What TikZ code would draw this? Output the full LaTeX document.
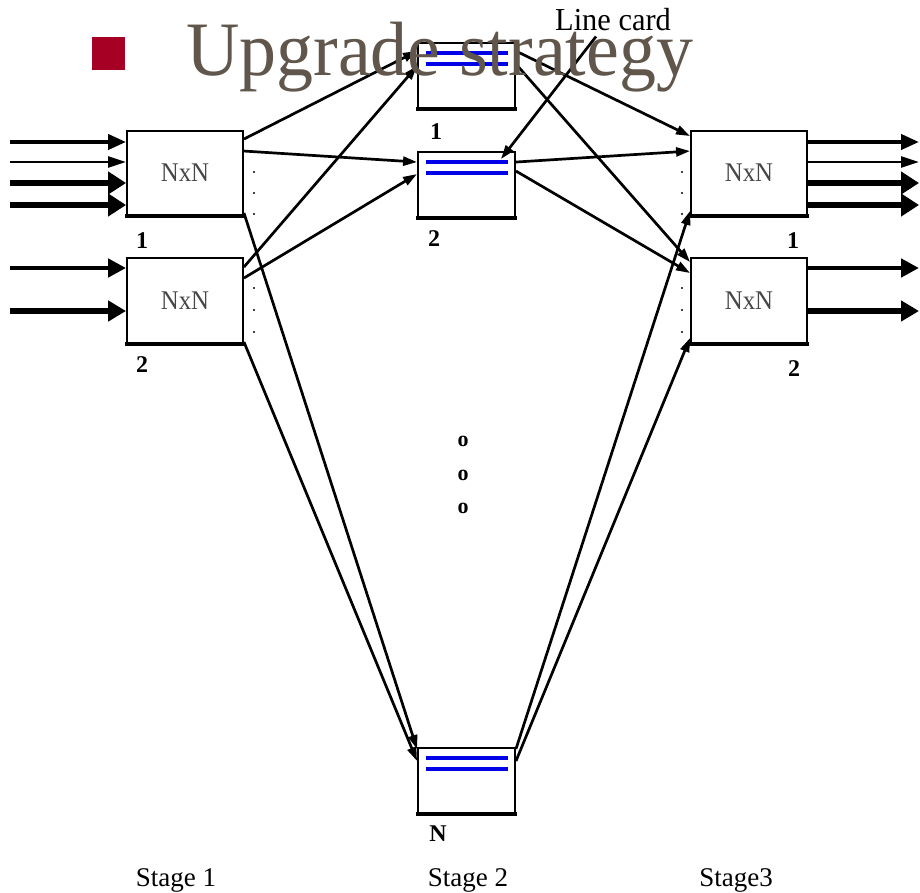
\documentclass[tikz,border=0pt]{standalone}
\usepackage{graphicx}
\usepackage{fontspec}
\setmainfont{Liberation Serif}
\usetikzlibrary{arrows.meta,calc}

\definecolor{titlegray}{RGB}{96,86,76}
\definecolor{bulletred}{RGB}{166,0,36}
\definecolor{cardblue}{RGB}{0,0,230}
\definecolor{textgray}{RGB}{70,70,70}

\tikzset{
  switchbox/.style={draw=black, line width=1.9pt, fill=white,
    minimum width=116pt, minimum height=84pt, inner sep=0pt,
    font=\fontsize{27}{27}\selectfont, text=textgray},
  cardbox/.style={draw=black, line width=1.9pt, fill=white,
    minimum width=97pt, minimum height=65pt, inner sep=0pt},
  link/.style={line width=2.7pt, -{Triangle[length=14pt,width=9pt]}},
  feed/.style={-{Triangle[length=18pt,width=#1]}},
  boxlabel/.style={font=\bfseries\fontsize{24}{24}\selectfont, inner sep=0pt, anchor=base},
  stagelabel/.style={font=\fontsize{27}{27}\selectfont, inner sep=0pt, anchor=base},
  slot/.style={draw=cardblue, line width=3.8pt},
  gapmark/.style={font=\bfseries\fontsize{22}{22}\selectfont, inner sep=0pt},
}

\begin{document}
\begin{tikzpicture}[x=1pt, y=-1pt]
  % page area
  \fill[white] (0,0) rectangle (920,893);
  \useasboundingbox (0,0) rectangle (920,893);

  % stage 1 and stage 3 switches
  \node[switchbox] (L1) at (185,173) {\scalebox{0.92}[1]{NxN}};
  \node[switchbox, minimum height=85pt] (L2) at (185,300.5) {\scalebox{0.92}[1]{NxN}};
  \node[switchbox] (R1) at (749,173) {\scalebox{0.92}[1]{NxN}};
  \node[switchbox, minimum height=85pt] (R2) at (749,300.5) {\scalebox{0.92}[1]{NxN}};

  % stage 2 line cards
  \node[cardbox] (M1) at (466.5,75.5) {};
  \node[cardbox] (M2) at (466.5,184.5) {};
  \node[cardbox] (MN) at (466.5,780.5) {};

  % stage 1 -> stage 2
  \draw[link] ($(L1.north east)+(0,9)$)  -- ($(M1.north west)+(0,9)$);
  \draw[link] ($(L1.north east)+(0,21)$) -- ($(M2.north west)+(0,11)$);
  \draw[link] ($(L1.south east)+(0,-3)$) -- ($(MN.north west)+(0,2)$);
  \draw[link] ($(L2.north east)+(0,10)$) -- ($(M1.north west)+(0,24)$);
  \draw[link] ($(L2.north east)+(0,21)$) -- ($(M2.north west)+(0,23)$);
  \draw[link] ($(L2.south east)+(0,-2)$) -- ($(MN.north west)+(0,14)$);

  % stage 2 -> stage 3
  \draw[link] ($(M1.north east)+(0,9)$)  -- ($(R1.north west)+(0,6)$);
  \draw[link] ($(M1.north east)+(0,22)$) -- ($(R2.north west)+(0,5)$);
  \draw[link] ($(M2.north east)+(0,11)$) -- ($(R1.north west)+(0,21)$);
  \draw[link] ($(M2.north east)+(0,20)$) -- ($(R2.north west)+(0,16)$);
  \draw[link] ($(MN.north east)+(0,2)$)  -- ($(R1.south west)+(0,-5)$);
  \draw[link] ($(MN.north east)+(0,14)$) -- ($(R2.south west)+(0,-6)$);

  % heavier lower edge on every box
  \foreach \b in {L1,L2,R1,R2,M1,M2,MN}
    \draw[line width=3.4pt] ($(\b.south west)+(-0.9,0)$) -- ($(\b.south east)+(0.9,0)$);

  % slots on the line cards
  \foreach \b in {M1,M2,MN} {
    \draw[slot] ($(\b.north west)+(9,11)$) -- ($(\b.north east)+(-8,11)$);
    \draw[slot] ($(\b.north west)+(9,22)$) -- ($(\b.north east)+(-8,22)$);
  }

  % input ports
  \coordinate (i1) at (10,142);
  \coordinate (i2) at (10,162);
  \coordinate (i3) at (10,183);
  \coordinate (i4) at (10,205);
  \coordinate (i5) at (10,268);
  \coordinate (i6) at (10,311);
  \draw[line width=4pt,   feed=15pt] (i1) -- (L1.west |- i1);
  \draw[line width=2.5pt, feed=11pt] (i2) -- (L1.west |- i2);
  \draw[line width=6pt,   feed=22pt] (i3) -- (L1.west |- i3);
  \draw[line width=6.5pt, feed=22pt] (i4) -- (L1.west |- i4);
  \draw[line width=4.5pt, feed=18pt] (i5) -- (L2.west |- i5);
  \draw[line width=6pt,   feed=20pt] (i6) -- (L2.west |- i6);

  % output ports
  \coordinate (o1) at (919,142);
  \coordinate (o2) at (919,162);
  \coordinate (o3) at (919,183);
  \coordinate (o4) at (919,205);
  \coordinate (o5) at (919,268);
  \coordinate (o6) at (919,311);
  \draw[line width=4pt,   feed=15pt] (R1.east |- o1) -- (o1);
  \draw[line width=2.5pt, feed=11pt] (R1.east |- o2) -- (o2);
  \draw[line width=6pt,   feed=22pt] (R1.east |- o3) -- (o3);
  \draw[line width=6.5pt, feed=22pt] (R1.east |- o4) -- (o4);
  \draw[line width=4.5pt, feed=18pt] (R2.east |- o5) -- (o5);
  \draw[line width=6pt,   feed=20pt] (R2.east |- o6) -- (o6);

  % unused port dots
  \foreach \yy in {172,193,214,288,310,332} {
    \fill (254,\yy) circle (1.2pt);
    \fill (682,\yy) circle (1.2pt);
  }

  % line card callout
  \node[font=\fontsize{32}{32}\selectfont, inner sep=0pt, anchor=base] (lc) at (613,31)
    {\scalebox{0.95}[1]{Line card}};
  \draw[link] ($(lc.south)+(-17,5)$) -- ($(M2.north east)+(-15,8)$);

  % box numbers
  \node[boxlabel] (nL1) at (142,248) {1};
  \node[boxlabel] (nL2) at (142,372) {2};
  \node[boxlabel] (nR1) at (793,248) {1};
  \node[boxlabel] (nR2) at (794,376) {2};
  \node[boxlabel] (nM1) at (436,140) {1};
  \node[boxlabel] (nM2) at (434,247) {2};
  \node[boxlabel] (nMN) at (438,841) {N};

  % elided cards
  \node[gapmark] (g1) at (463,441) {o};
  \node[gapmark] (g2) at (463,475) {o};
  \node[gapmark] (g3) at (463,508) {o};

  % stage captions
  \node[stagelabel] (s1) at (176,886) {Stage 1};
  \node[stagelabel] (s2) at (468,886) {Stage 2};
  \node[stagelabel] (s3) at (736,886) {Stage3};

  % slide heading
  \node[fill=bulletred, minimum size=33pt, inner sep=0pt] (bullet) at (108.5,53.5) {};
  \node[anchor=base west, inner sep=0pt, text=titlegray,
        font=\fontsize{77}{77}\selectfont] (title) at (186,76)
    {\scalebox{0.96}[1]{Upgrade strategy}};
\end{tikzpicture}
\end{document}
